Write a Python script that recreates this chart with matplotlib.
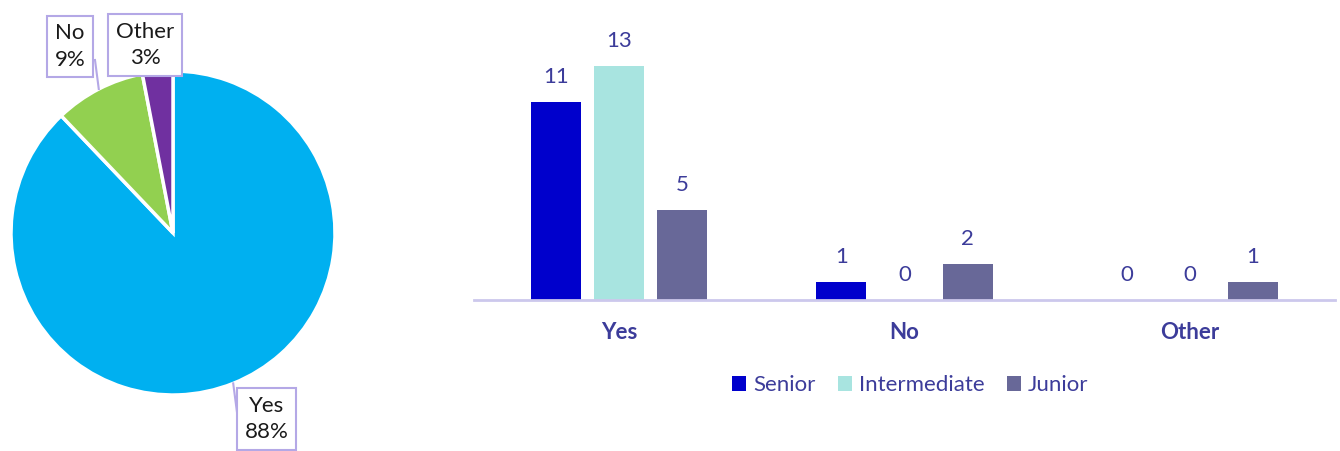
import matplotlib
matplotlib.use("Agg")
import matplotlib.pyplot as plt
from matplotlib.patches import Patch
from matplotlib.lines import Line2D
import numpy as np

plt.rcParams['font.family'] = ['Lato', 'DejaVu Sans']

# ---- data ----
pie_labels = ["Yes", "No", "Other"]
pie_values = [29, 3, 1]
pie_colors = ["#00B0F0", "#92D050", "#7030A0"]

categories = ["Yes", "No", "Other"]
series_names = ["Senior", "Intermediate", "Junior"]
senior = [11, 1, 0]
intermediate = [13, 0, 0]
junior = [5, 2, 1]
series_colors = ["#0000CC", "#A8E4E0", "#686898"]

TXT = "#3C3C9A"
W, H = 1340, 451
fig = plt.figure(figsize=(W / 100, H / 100), dpi=100)


def fx(x):
    return x / W


def fy(y):
    return 1 - y / H


# ---- pie ----
cx, cy, r = 173, 233, 162
axp = fig.add_axes([fx(cx - r), fy(cy + r), 2 * r / W, 2 * r / H])
wedges, _ = axp.pie(pie_values, colors=pie_colors, startangle=90, counterclock=False,
                    wedgeprops=dict(edgecolor="white", linewidth=2.5), radius=1)
axp.set_xlim(-1, 1)
axp.set_ylim(-1, 1)
axp.set_aspect("auto")
axp.axis("off")

total = sum(pie_values)
box_centers = [(266.5, 419), (70, 46.5), (145, 45)]
leader_ends = [(238, 420), (95, 60), None]
for i, (lab, v) in enumerate(zip(pie_labels, pie_values)):
    pct = round(100 * v / total)
    bx, by = box_centers[i]
    fig.text(fx(bx), fy(by), f"{lab}\n{pct}%", ha="center", va="center", fontsize=16,
             color="#1a1a1a", linespacing=1.4,
             bbox=dict(boxstyle="square,pad=0.35", facecolor="white", edgecolor="#B4A8E6", linewidth=1.5),
             zorder=5)
    if leader_ends[i] is None:
        continue
    w = wedges[i]
    mid = np.deg2rad((w.theta1 + w.theta2) / 2)
    ex, ey = cx + r * np.cos(mid), cy - r * np.sin(mid)
    lx, ly = leader_ends[i]
    fig.add_artist(Line2D([fx(ex), fx(lx)], [fy(ey), fy(ly)], color="#B4A8E6", linewidth=1.5, zorder=4))

# ---- bars ----
left, right = 474, 1335
base, top = 300, 48
axb = fig.add_axes([fx(left), fy(base), (right - left) / W, (base - top) / H])
x = np.arange(len(categories))
pitch = 0.221
width = 0.175
data = [senior, intermediate, junior]
for k, (vals, col, name) in enumerate(zip(data, series_colors, series_names)):
    pos = x + (k - 1) * pitch
    axb.bar(pos, vals, width=width, color=col, label=name, zorder=2)
    for p, v in zip(pos, vals):
        axb.annotate(str(v), (p, v), xytext=(0, 25), textcoords="offset pixels",
                     ha="center", va="center", fontsize=16, color=TXT)
axb.set_xlim(-0.509, 2.509)
axb.set_ylim(0, 14)
for s in ["top", "left", "right"]:
    axb.spines[s].set_visible(False)
axb.spines["bottom"].set_color("#CCC8EC")
axb.spines["bottom"].set_linewidth(2)
axb.set_yticks([])
axb.set_xticks(x)
axb.set_xticklabels(categories, fontsize=16, fontweight="bold", color=TXT)
axb.tick_params(axis="x", length=0, pad=16)
axb.set_facecolor("none")

handles = [Patch(facecolor=c, edgecolor="none", label=n) for c, n in zip(series_colors, series_names)]
fig.legend(handles=handles, loc="center", bbox_to_anchor=(fx(910), fy(385)), ncol=3, frameon=False,
           fontsize=16, labelcolor=TXT, handlelength=0.65, handleheight=0.65, handletextpad=0.3,
           columnspacing=1.0)

fig.savefig("out.png", dpi=100)
